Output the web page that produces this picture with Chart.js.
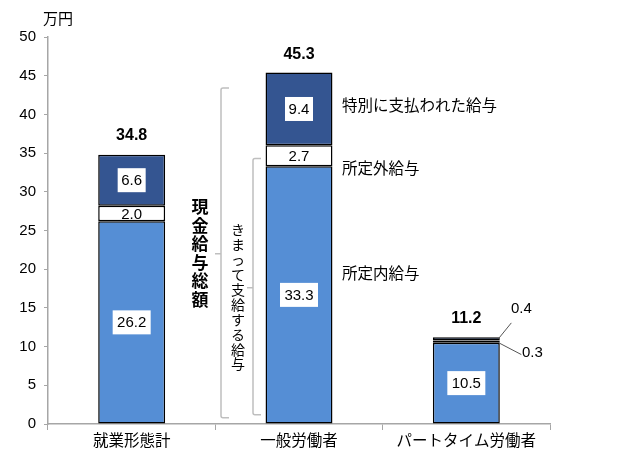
<!DOCTYPE html>
<html>
<head>
<meta charset="utf-8">
<script src="https://cdn.jsdelivr.net/npm/chart.js@4"></script>
<style>
  html, body { margin: 0; padding: 0; background: #fff; }
  #wrap { width: 621px; height: 455px; position: relative; }
</style>
</head>
<body>
<div id="wrap"><canvas id="chart"></canvas></div>
<script>
// 賃金の内訳（万円）
const categories = ['就業形態計', '一般労働者', 'パートタイム労働者'];
const shoteinai  = [26.2, 33.3, 10.5];   // 所定内給与
const shoteigai  = [2.0, 2.7, 0.3];      // 所定外給与
const tokubetsu  = [6.6, 9.4, 0.4];      // 特別に支払われた給与
const totals     = [34.8, 45.3, 11.2];   // 現金給与総額
const yTicks     = [0, 5, 10, 15, 20, 25, 30, 35, 40, 45, 50];

const FONT = '"Liberation Sans", "Noto Sans CJK JP", sans-serif';
const JP = '"Noto Sans CJK JP", sans-serif';

function box(ctx, text, x, y, w, h) {
  ctx.fillStyle = '#fff';
  ctx.fillRect(x - w / 2, y - h / 2, w, h);
  ctx.fillStyle = '#000';
  ctx.fillText(text, x, y + 1);
}

function vtext(ctx, str, x, y0, step) {
  [...str].forEach((ch, i) => ctx.fillText(ch, x, y0 + i * step));
}

// bracket: vertical line with hooks to the right and a nub to the left
function bracket(ctx, x, top, bottom, nubY) {
  ctx.beginPath();
  ctx.moveTo(x + 8, top);
  ctx.lineTo(x + 2, top);
  ctx.quadraticCurveTo(x, top, x, top + 2);
  ctx.lineTo(x, bottom - 2);
  ctx.quadraticCurveTo(x, bottom, x + 2, bottom);
  ctx.lineTo(x + 8, bottom);
  ctx.moveTo(x, nubY);
  ctx.lineTo(x - 6, nubY);
  ctx.stroke();
}

const labelsPlugin = {
  id: 'labels',
  afterDatasetsDraw(chart) {
    const ctx = chart.ctx;
    const y = chart.scales.y;
    const metas = [0, 1, 2].map(i => chart.getDatasetMeta(i).data);
    ctx.save();
    ctx.textAlign = 'center';
    ctx.textBaseline = 'middle';
    ctx.font = '15px ' + FONT;

    // values inside segments (first two bars)
    for (let i = 0; i < 2; i++) {
      const b0 = metas[0][i], b1 = metas[1][i], b2 = metas[2][i];
      box(ctx, shoteinai[i].toFixed(1), b0.x, (b0.y + b0.base) / 2, 38, 24);
      ctx.fillStyle = '#000';
      ctx.fillText(shoteigai[i].toFixed(1), b1.x, (b1.y + b1.base) / 2 + 1);
      box(ctx, tokubetsu[i].toFixed(1), b2.x, (b2.y + b2.base) / 2, 28, 24);
    }
    // part-time bar
    const p0 = metas[0][2], p1 = metas[1][2], p2 = metas[2][2];
    box(ctx, shoteinai[2].toFixed(1), p0.x, (p0.y + p0.base) / 2, 38, 24);
    ctx.strokeStyle = '#555';
    ctx.lineWidth = 1;
    ctx.beginPath();
    ctx.moveTo(p2.x + 32, (p2.y + p2.base) / 2);
    ctx.lineTo(p2.x + 45, (p2.y + p2.base) / 2 - 16);
    ctx.moveTo(p1.x + 32, (p1.y + p1.base) / 2 + 1);
    ctx.lineTo(p1.x + 55, (p1.y + p1.base) / 2 + 13);
    ctx.stroke();
    ctx.fillStyle = '#000';
    ctx.fillText(tokubetsu[2].toFixed(1), p2.x + 55, (p2.y + p2.base) / 2 - 30);
    ctx.fillText(shoteigai[2].toFixed(1), p1.x + 66, (p1.y + p1.base) / 2 + 11);

    // totals
    ctx.font = 'bold 16px ' + FONT;
    for (let i = 0; i < 3; i++) {
      ctx.fillText(totals[i].toFixed(1), metas[2][i].x, y.getPixelForValue(totals[i]) - 19);
    }

    // series names beside 一般労働者
    const g = 1;
    const gx = metas[0][g].x + 43;
    ctx.textAlign = 'left';
    ctx.font = '15.5px ' + JP;
    ctx.fillText('特別に支払われた給与', gx, y.getPixelForValue(41.2));
    ctx.fillText('所定外給与', gx, y.getPixelForValue(33.1));
    ctx.fillText('所定内給与', gx, y.getPixelForValue(19.5));

    // brackets
    ctx.strokeStyle = '#bfbfbf';
    ctx.lineWidth = 1.5;
    bracket(ctx, 221, y.getPixelForValue(43.4), y.getPixelForValue(0.8), y.getPixelForValue(22));
    bracket(ctx, 253, y.getPixelForValue(34.3), y.getPixelForValue(1.2), y.getPixelForValue(17.6));

    ctx.textAlign = 'center';
    ctx.fillStyle = '#000';
    ctx.font = 'bold 17px ' + JP;
    vtext(ctx, '現金給与総額', 200, 207, 18.5);
    ctx.font = '14px ' + JP;
    vtext(ctx, 'きまって支給する給与', 238, 230, 14.9);
    ctx.restore();
  }
};

const common = {
  borderColor: '#000',
  borderWidth: 1.5,
  borderSkipped: false,
  categoryPercentage: 1,
  barPercentage: 0.4,
};

new Chart(document.getElementById('chart'), {
  type: 'bar',
  data: {
    labels: categories,
    datasets: [
      { label: '所定内給与', data: shoteinai, backgroundColor: '#558ed5', ...common },
      { label: '所定外給与', data: shoteigai, backgroundColor: '#ffffff', ...common },
      { label: '特別に支払われた給与', data: tokubetsu, backgroundColor: '#345591', ...common },
    ]
  },
  options: {
    responsive: true,
    maintainAspectRatio: false,
    animation: false,
    layout: { padding: { top: 37, right: 71, bottom: 0, left: 0 } },
    plugins: {
      legend: { display: false },
      tooltip: { enabled: false },
      title: { display: false },
    },
    scales: {
      x: {
        stacked: true,
        grid: { offset: true, drawOnChartArea: false, color: '#a6a6a6', tickLength: 6 },
        border: { color: '#a6a6a6', width: 1.5 },
        ticks: { color: '#000', font: { family: JP, size: 15.5 }, padding: 1 },
        afterFit(s) { s.height = 31; },
      },
      y: {
        stacked: true,
        min: 0,
        max: 50,
        afterBuildTicks(s) { s.ticks = yTicks.map(v => ({ value: v })); },
        grid: { drawOnChartArea: false, color: '#a6a6a6', tickLength: 4 },
        border: { color: '#a6a6a6', width: 1.5 },
        ticks: { color: '#000', font: { family: FONT, size: 15 }, padding: 8 },
        afterFit(s) { s.width = 48; },
      }
    }
  },
  plugins: [labelsPlugin, {
    id: 'unit',
    afterDraw(chart) {
      const ctx = chart.ctx;
      ctx.save();
      ctx.font = '15px ' + JP;
      ctx.fillStyle = '#000';
      ctx.textBaseline = 'middle';
      ctx.fillText('万円', 43, 18);
      ctx.restore();
    }
  }]
});
</script>
</body>
</html>
